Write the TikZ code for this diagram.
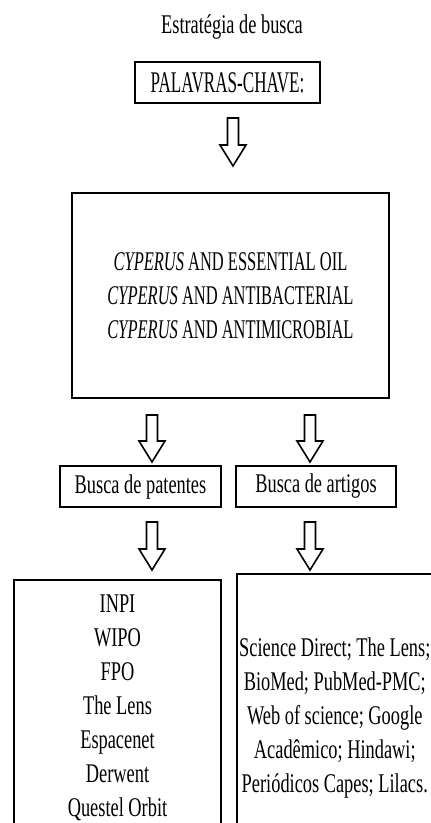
\documentclass[tikz,border=0pt]{standalone}
\usepackage{fontspec}
\setmainfont{Liberation Serif}[FakeStretch=0.68]
\newfontfamily\capfont{Liberation Serif}[FakeStretch=0.61]
\newfontfamily\kwfont{Liberation Serif}[FakeStretch=0.57]
\usetikzlibrary{positioning,calc}

\tikzset{
  box/.style={draw, line width=1.6pt, inner sep=0pt, align=center},
  hollow/.style={draw, line width=1.6pt, line join=miter, fill=white},
}
% hollow block arrow from top point #1 down to tip #2
\newcommand{\hollowarrow}[2]{%
  \draw[hollow] ($(#1)+(-5.5,0)$) -- ($(#2)+(-5.5,21)$) -- ($(#2)+(-13,21)$) -- (#2)
    -- ($(#2)+(13,21)$) -- ($(#2)+(5.5,21)$) -- ($(#1)+(5.5,0)$) -- cycle;}

\begin{document}
\begin{tikzpicture}[x=1pt, y=1pt, font=\fontsize{27}{34}\selectfont]
    \useasboundingbox (0,0) rectangle (431,-823);
    \clip (0,0) rectangle (431,-823);

    % Title and keywords
    \node (title) at (232,-27) {Estratégia de busca};
    \node[box, minimum width=185, minimum height=41, font=\fontsize{30}{34}\kwfont] (kw) at (227.5,-82.5) {PALAVRAS-CHAVE:};

    % Search terms
    \node[box, minimum width=317, minimum height=205, font=\fontsize{27}{34}\capfont] (oper) at (230.5,-295.5)
        {\textit{CYPERUS} AND ESSENTIAL OIL\\
         \textit{CYPERUS} AND ANTIBACTERIAL\\
         \textit{CYPERUS} AND ANTIMICROBIAL};

    % Two branches
    \node[box, minimum width=161, minimum height=41] (patent) at (140.5,-486.5) {Busca de patentes};
    \node[box, minimum width=160, minimum height=41] (artigo) at (316,-486.5) {Busca de artigos};

    % Databases (boxes run past the page)
    \node[box, minimum width=207, minimum height=256, anchor=north] (patbases) at (117.5,-579)
        {INPI\\ WIPO\\ FPO\\ The Lens\\ Espacenet\\ Derwent\\ Questel Orbit};
    \node[box, minimum width=196, minimum height=288, anchor=north west] (artbases) at (236,-573)
        {Science Direct; The Lens;\\ BioMed; PubMed-PMC;\\ Web of science; Google\\
         Acadêmico; Hindawi;\\ Periódicos Capes; Lilacs.};

    % Arrows
    \coordinate (a1s) at (233,-118); \coordinate (a1e) at (233,-166);
    \coordinate (a2s) at (152,-415); \coordinate (a2e) at (152,-462);
    \coordinate (a3s) at (310,-415); \coordinate (a3e) at (310,-462);
    \coordinate (a4s) at (152,-522); \coordinate (a4e) at (152,-570);
    \coordinate (a5s) at (310,-522); \coordinate (a5e) at (310,-570);
    \hollowarrow{a1s}{a1e} % keywords -> terms
    \hollowarrow{a2s}{a2e} % terms -> patents
    \hollowarrow{a3s}{a3e} % terms -> articles
    \hollowarrow{a4s}{a4e} % patents -> bases
    \hollowarrow{a5s}{a5e} % articles -> bases
\end{tikzpicture}
\end{document}
